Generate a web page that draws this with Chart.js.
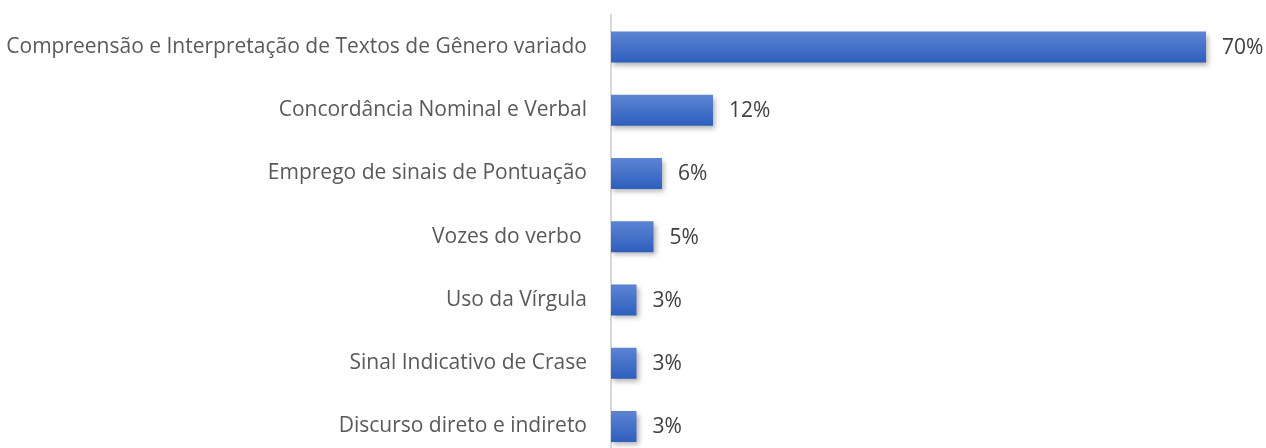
<!DOCTYPE html>
<html>
<head>
<meta charset="utf-8">
<script src="https://cdn.jsdelivr.net/npm/chart.js@4.4.1/dist/chart.umd.min.js"></script>
<style>
  html, body { margin: 0; padding: 0; background: #fff; overflow: hidden; }
  #wrap { width: 1266px; height: 458px; }
  canvas { display: block; }
</style>
</head>
<body>
<div id="wrap"><canvas id="chart" width="1266" height="458"></canvas></div>
<script>
const categories = [
  'Compreensão e Interpretação de Textos de Gênero variado',
  'Concordância Nominal e Verbal',
  'Emprego de sinais de Pontuação',
  'Vozes do verbo ',
  'Uso da Vírgula',
  'Sinal Indicativo de Crase',
  'Discurso direto e indireto'
];
const percentages = [70, 12, 6, 5, 3, 3, 3];

const FONT = '"Open Sans", sans-serif';

// bar shadow
const shadowPlugin = {
  id: 'barShadow',
  beforeDatasetsDraw(chart) {
    const c = chart.ctx;
    c.save();
    c.shadowColor = 'rgba(0,0,0,0.3)';
    c.shadowBlur = 5;
    c.shadowOffsetX = 2;
    c.shadowOffsetY = 3;
  },
  afterDatasetsDraw(chart) {
    chart.ctx.restore();
  }
};

// value labels at the end of the bars
const valueLabels = {
  id: 'valueLabels',
  afterDatasetsDraw(chart) {
    const c = chart.ctx;
    const meta = chart.getDatasetMeta(0);
    c.save();
    c.font = '21px ' + FONT;
    c.fillStyle = '#404040';
    c.textAlign = 'left';
    c.textBaseline = 'middle';
    meta.data.forEach((bar, i) => {
      c.fillText(percentages[i] + '%', bar.x + 16, bar.y + 1);
    });
    c.restore();
  }
};

new Chart(document.getElementById('chart'), {
  type: 'bar',
  data: {
    labels: categories,
    datasets: [{
      data: percentages,
      backgroundColor(ctx) {
        const chart = ctx.chart;
        const y = chart.scales.y;
        if (!y || !chart.chartArea) return '#4472c4';
        const mid = y.getPixelForTick(ctx.dataIndex);
        const g = chart.ctx.createLinearGradient(0, mid - 15, 0, mid + 15);
        g.addColorStop(0, '#5b84d2');
        g.addColorStop(1, '#2f5fbf');
        return g;
      },
      borderWidth: 0,
      barPercentage: 0.49,
      categoryPercentage: 1
    }]
  },
  options: {
    indexAxis: 'y',
    responsive: false,
    animation: false,
    layout: { padding: { left: 0, right: 17.5, top: 15.4, bottom: 0 } },
    plugins: {
      legend: { display: false },
      tooltip: { enabled: false }
    },
    scales: {
      x: {
        display: false,
        min: 0,
        max: 75
      },
      y: {
        grid: { display: false, drawTicks: false },
        border: { color: '#d9d9d9', width: 2 },
        ticks: {
          color: '#595959',
          padding: 24,
          font: { family: FONT, size: 21 }
        },
        afterFit(scale) {
          scale.width = 611;
          scale.paddingTop = 0;
          scale.paddingBottom = 0;
        }
      }
    }
  },
  plugins: [shadowPlugin, valueLabels]
});
</script>
</body>
</html>
